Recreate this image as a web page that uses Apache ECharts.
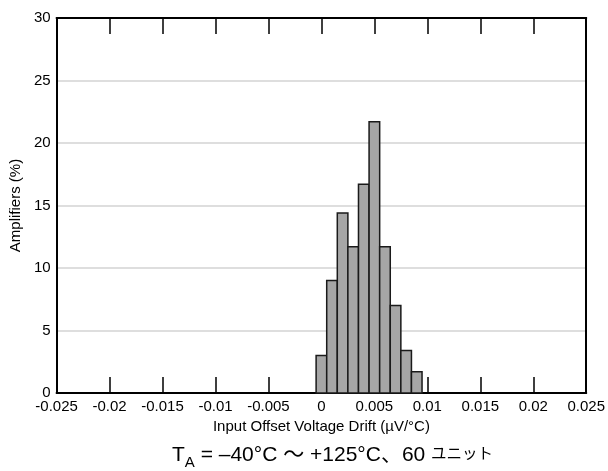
<!DOCTYPE html>
<html>
<head>
<meta charset="utf-8">
<script src="https://cdn.jsdelivr.net/npm/echarts@6/dist/echarts.min.js"></script>
<style>
  html, body { margin: 0; padding: 0; background: #ffffff; }
  #chart { width: 608px; height: 471px; }
</style>
</head>
<body>
<div id="chart"></div>
<script>
// Histogram bin centres (µV/°C) and share of amplifiers in each bin (%)
const binCenters = [0, 0.001, 0.002, 0.003, 0.004, 0.005, 0.006, 0.007, 0.008, 0.009];
const binPercent = [3.0, 9.0, 14.4, 11.7, 16.7, 21.7, 11.7, 7.0, 3.4, 1.7];
const binWidth = 0.001;

const xTickLabels = ['-0.025', '-0.02', '-0.015', '-0.01', '-0.005', '0',
                     '0.005', '0.01', '0.015', '0.02', '0.025'];
const yTickLabels = ['0', '5', '10', '15', '20', '25', '30'];

const FONT = '"Liberation Sans", Arial, "Noto Sans CJK JP", sans-serif';

const chart = echarts.init(document.getElementById('chart'), null, { renderer: 'canvas' });

const tickLabel = (labels, min, step) => (v) => {
  const i = Math.round((v - min) / step);
  return labels[i] !== undefined ? labels[i] : '';
};

const axisLine = { show: true, onZero: false, lineStyle: { color: '#000', width: 2 } };

chart.setOption({
  animation: false,
  backgroundColor: '#ffffff',
  title: {
    left: 167,
    top: 440,
    text: '{t|T}{s|A}{t| = –40°C ～ +125°C、60 }{j|ユニット}',
    textStyle: {
      fontWeight: 'normal',
      rich: {
        t: { fontFamily: FONT, fontSize: 21, fontWeight: 'normal', color: '#000', lineHeight: 22, verticalAlign: 'top' },
        s: { fontFamily: FONT, fontSize: 15, fontWeight: 'normal', color: '#000', lineHeight: 15, padding: [10, 0, 0, 0], verticalAlign: 'top' },
        j: { fontFamily: '"Noto Sans CJK JP", sans-serif', fontSize: 15.5, fontWeight: 'normal', color: '#000', lineHeight: 22, verticalAlign: 'top' }
      }
    }
  },
  grid: { left: 56, top: 18, right: 21, bottom: 78 },
  xAxis: [
    {
      type: 'value',
      min: -0.025, max: 0.025, interval: 0.005,
      position: 'bottom',
      name: 'Input Offset Voltage Drift (µV/°C)',
      nameLocation: 'middle',
      nameGap: 24,
      nameTextStyle: { fontFamily: FONT, fontSize: 15, color: '#000' },
      axisLine: axisLine,
      axisTick: { show: true, inside: true, length: 16, lineStyle: { color: '#000', width: 1.5 } },
      axisLabel: { fontFamily: FONT, fontSize: 15, color: '#000', margin: 6,
                   formatter: tickLabel(xTickLabels, -0.025, 0.005) },
      splitLine: { show: false }
    },
    {
      type: 'value',
      min: -0.025, max: 0.025, interval: 0.005,
      position: 'top',
      axisLine: axisLine,
      axisTick: { show: true, inside: true, length: 16, lineStyle: { color: '#000', width: 1.5 } },
      axisLabel: { show: false },
      splitLine: { show: false }
    }
  ],
  yAxis: [
    {
      type: 'value',
      min: 0, max: 30, interval: 5,
      position: 'left',
      name: 'Amplifiers (%)',
      nameLocation: 'middle',
      nameGap: 31,
      nameTextStyle: { fontFamily: FONT, fontSize: 15, color: '#000' },
      axisLine: axisLine,
      axisTick: { show: false },
      axisLabel: { fontFamily: FONT, fontSize: 15, color: '#000', margin: 6,
                   formatter: tickLabel(yTickLabels, 0, 5) },
      splitLine: { show: true, lineStyle: { color: '#d3d3d3', width: 1.5 } }
    },
    {
      type: 'value',
      min: 0, max: 30, interval: 5,
      position: 'right',
      axisLine: axisLine,
      axisTick: { show: false },
      axisLabel: { show: false },
      splitLine: { show: false }
    }
  ],
  series: [
    {
      type: 'custom',
      xAxisIndex: 0,
      yAxisIndex: 0,
      z: 5,
      data: binCenters.map((c, i) => [c, binPercent[i]]),
      renderItem: function (params, api) {
        const c = api.value(0);
        const v = api.value(1);
        const p0 = api.coord([c - binWidth / 2, v]);
        const p1 = api.coord([c + binWidth / 2, 0]);
        return {
          type: 'rect',
          shape: { x: p0[0], y: p0[1], width: p1[0] - p0[0], height: p1[1] - p0[1] },
          style: { fill: '#a6a6a6', stroke: '#1a1a1a', lineWidth: 1.5 }
        };
      }
    }
  ]
});
</script>
</body>
</html>
